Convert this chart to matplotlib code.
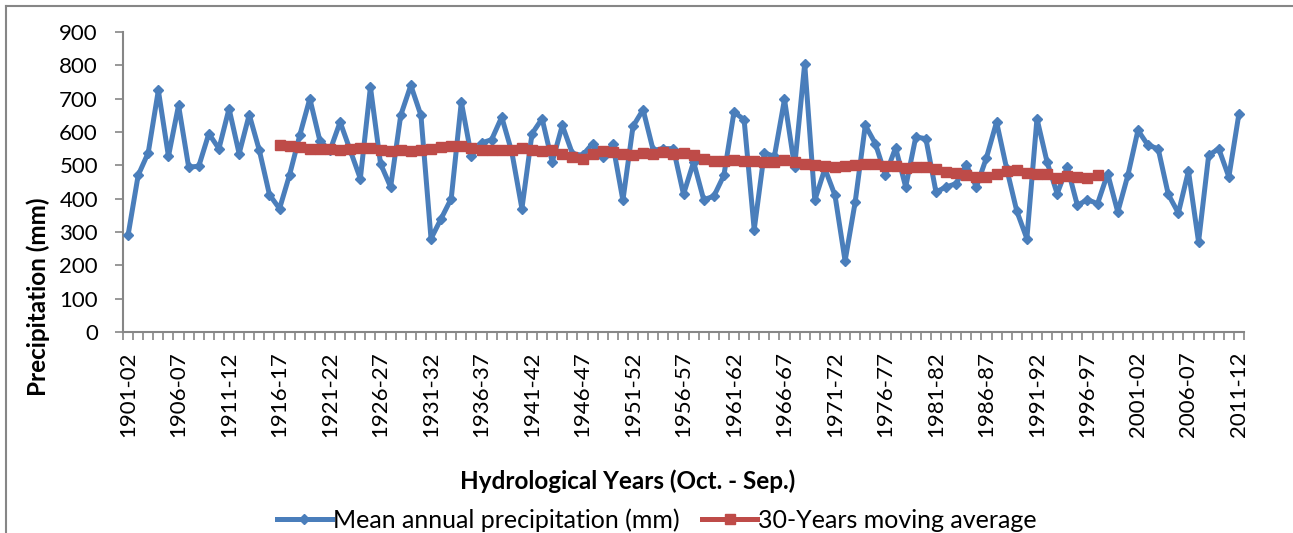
import matplotlib
matplotlib.use("Agg")
import matplotlib.pyplot as plt
from matplotlib.lines import Line2D

plt.rcParams['font.family'] = ['Lato', 'DejaVu Sans']

# hydrological years 1901-02 .. 2011-12
start_years = list(range(1901, 2012))
year_labels = [f"{y}-{str(y + 1)[-2:]}" for y in start_years]

# mean annual precipitation (mm)
precip = [
    290, 470, 538, 725, 527, 680, 495, 497, 595, 550,
    670, 535, 652, 545, 412, 370, 472, 590, 700, 573,
    545, 630, 545, 460, 735, 505, 435, 650, 740, 650,
    280, 340, 400, 690, 527, 567, 577, 645, 540, 370,
    595, 640, 510, 620, 535, 530, 565, 525, 563, 395,
    617, 667, 545, 550, 550, 413, 510, 397, 407, 470,
    660, 637, 307, 537, 527, 698, 495, 805, 395, 490,
    410, 213, 390, 620, 565, 470, 553, 435, 585, 580,
    420, 435, 445, 502, 435, 523, 630, 490, 363, 280,
    640, 510, 415, 495, 380, 397, 385, 475, 360, 470,
    605, 560, 550, 413, 357, 483, 270, 530, 550, 465,
    655,
]

# 30-years moving average, 1916-17 .. 1996-97
ma_start = 15
moving_avg = [
    560, 558, 555, 550, 550, 548, 545, 548, 553, 553,
    545, 543, 547, 543, 545, 550, 555, 557, 557, 553,
    545, 547, 547, 547, 552, 545, 542, 545, 535, 525,
    520, 535, 542, 540, 533, 532, 537, 535, 540, 535,
    538, 532, 520, 513, 513, 515, 513, 512, 510, 510,
    517, 510, 503, 500, 498, 495, 498, 502, 505, 503,
    498, 497, 492, 495, 495, 490, 480, 476, 470, 465,
    465, 473, 482, 485, 478, 473, 475, 463, 467, 465,
    462, 470,
]

blue = '#4A7EBB'
red = '#BE4B48'
axis_grey = '#868686'

fig = plt.figure(figsize=(12.93, 5.33), dpi=100)
ax = fig.add_axes([123 / 1293, 1 - 332 / 533, (1244 - 123) / 1293, 300 / 533])

x = list(range(len(precip)))
x_ma = list(range(ma_start, ma_start + len(moving_avg)))

ax.plot(x, precip, color=blue, lw=3.6, marker='D', ms=5.5,
        markerfacecolor=blue, markeredgecolor=blue, zorder=3)
ax.plot(x_ma, moving_avg, color=red, lw=3.6, marker='s', ms=6.8,
        markerfacecolor=red, markeredgecolor=red, zorder=4)

ax.set_xlim(-0.5, len(precip) - 0.5)
ax.set_ylim(0, 900)
ax.set_yticks(range(0, 901, 100))

ax.set_xticks(x[::5])
ax.set_xticklabels(year_labels[::5], rotation=90, fontsize=16)
ax.set_xticks([i - 0.5 for i in range(len(precip) + 1)], minor=True)
ax.tick_params(axis='x', which='major', length=0, pad=14)
ax.tick_params(axis='x', which='minor', length=6, width=1.2,
               color=axis_grey, direction='out')
ax.tick_params(axis='y', length=6, width=1.2, color=axis_grey,
               labelsize=16, pad=12)

for side in ['top', 'right']:
    ax.spines[side].set_visible(False)
for side in ['left', 'bottom']:
    ax.spines[side].set_color(axis_grey)
    ax.spines[side].set_linewidth(1.5)

fig.text(38 / 1293, 1 - 297 / 533, 'Precipitation (mm)', rotation=90,
         fontsize=17.5, fontweight='bold', ha='center', va='center')
fig.text(628 / 1293, 1 - 481 / 533, 'Hydrological Years (Oct. - Sep.)',
         fontsize=17.5, fontweight='bold', ha='center', va='center')

handles = [
    Line2D([], [], color=blue, lw=3.6, marker='D', ms=5.5),
    Line2D([], [], color=red, lw=3.6, marker='s', ms=6.8),
]
fig.legend(handles, ['Mean annual precipitation (mm)', '30-Years moving average'],
           loc='center', bbox_to_anchor=(657 / 1293, 1 - 520 / 533), ncol=2,
           frameon=False, fontsize=18, numpoints=1, handlelength=2.2,
           handletextpad=0.05, columnspacing=0.9, borderpad=0)

# outer chart frame
fig.add_artist(Line2D([6 / 1293, 6 / 1293], [0, 1 - 6 / 533],
                      color=axis_grey, lw=1.5, transform=fig.transFigure))
fig.add_artist(Line2D([6 / 1293, 1], [1 - 6 / 533, 1 - 6 / 533],
                      color=axis_grey, lw=1.5, transform=fig.transFigure))

fig.savefig('out.png', dpi=100)
